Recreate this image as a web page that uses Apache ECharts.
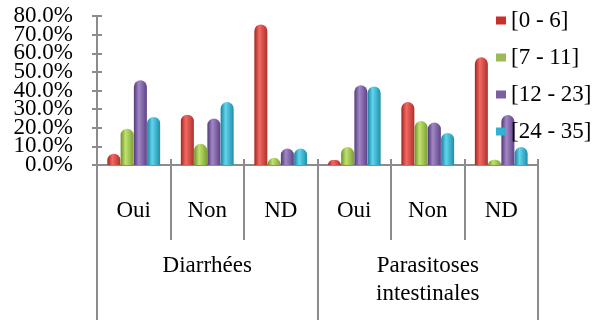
<!DOCTYPE html>
<html><head><meta charset="utf-8">
<script src="https://cdn.jsdelivr.net/npm/echarts@6/dist/echarts.min.js"></script>
<style>html,body{margin:0;padding:0;background:#fff}#c{width:607px;height:322px}</style>
</head><body><div id="c"></div>
<script>
const subCategories = ['Oui', 'Non', 'ND', 'Oui', 'Non', 'ND'];
const groupCategories = ['Diarrhées', 'Parasitoses\nintestinales'];
const seriesNames = ['[0 - 6]', '[7 - 11]', '[12 - 23]', '[24 - 35]'];
const s0_6 = [6.1, 27.0, 75.5, 2.7, 33.8, 57.8];
const s7_11 = [19.5, 11.4, 3.9, 9.6, 23.6, 2.8];
const s12_23 = [45.5, 24.9, 8.8, 42.8, 22.8, 26.8];
const s24_35 = [25.8, 33.8, 8.8, 42.2, 17.2, 9.6];
const yTicks = { min: 0, max: 80, interval: 10 };

const palette = [
  ['#a3231f', '#f26a62', '#b0302b'],
  ['#6e8f2a', '#bfe26e', '#7d9f35'],
  ['#51397a', '#a286c6', '#5c4386'],
  ['#17819c', '#62d4ee', '#1f8ea9']
];
const legendColors = ['#c9302c', '#9bbb59', '#7b5fa3', '#2fb2d4'];
function grad(c) {
  return new echarts.graphic.LinearGradient(0, 0, 1, 0, [
    { offset: 0, color: c[0] }, { offset: 0.38, color: c[1] }, { offset: 1, color: c[2] }
  ]);
}
const allData = [s0_6, s7_11, s12_23, s24_35];
const font = '"Liberation Serif", "Times New Roman", serif';
const axisColor = '#8c8c8c';
const fs = 23;
const gridRect = { left: 97, right: 69, top: 16, bottom: 157, containLabel: false };
const pct = v => v.toFixed(1) + '%';

const chart = echarts.init(document.getElementById('c'), null, { renderer: 'canvas' });
chart.setOption({
  animation: false,
  textStyle: { fontFamily: font },
  grid: [Object.assign({}, gridRect), Object.assign({}, gridRect)],
  legend: {
    orient: 'vertical', left: 491, top: 4,
    itemWidth: 10, itemHeight: 8, itemGap: 14,
    textStyle: { fontFamily: font, fontSize: fs, color: '#000' },
    data: seriesNames.map((n, i) => ({ name: n, icon: 'rect', itemStyle: { color: legendColors[i] } }))
  },
  xAxis: [
    {
      type: 'category', data: subCategories, position: 'bottom', gridIndex: 0,
      axisLine: { show: true, lineStyle: { color: axisColor, width: 2 } },
      axisTick: { show: true, interval: 0, length: 75, lineStyle: { color: axisColor, width: 2 } },
      axisLabel: { interval: 0, margin: 34, fontFamily: font, fontSize: fs, color: '#000' }
    },
    {
      type: 'category', data: groupCategories, position: 'bottom', gridIndex: 0,
      axisLine: { show: false },
      axisTick: { show: true, interval: 0, length: 155, lineStyle: { color: axisColor, width: 2 } },
      axisLabel: { interval: 0, margin: 87, lineHeight: 28, fontFamily: font, fontSize: fs, color: '#000' }
    },
    {
      type: 'category', data: subCategories, position: 'bottom', gridIndex: 1,
      axisLine: { show: false },
      axisTick: { show: true, inside: true, interval: 0, length: 6, lineStyle: { color: axisColor, width: 2 } },
      axisLabel: { show: false }
    }
  ],
  yAxis: [
    {
      type: 'value', min: yTicks.min, max: yTicks.max, interval: yTicks.interval, gridIndex: 0,
      axisLine: { show: true, lineStyle: { color: axisColor, width: 2 } },
      axisTick: { show: true, length: 5, lineStyle: { color: axisColor, width: 2 } },
      splitLine: { show: false },
      axisLabel: { margin: 24, fontFamily: font, fontSize: fs, color: '#000',
        formatter: v => (v % 20 === 0 ? pct(v) : '') }
    },
    {
      type: 'value', min: yTicks.min, max: yTicks.max, interval: yTicks.interval, position: 'left', gridIndex: 1,
      axisLine: { show: false },
      axisTick: { show: true, inside: true, length: 5, lineStyle: { color: axisColor, width: 2 } },
      splitLine: { show: false },
      axisLabel: { margin: 24, fontFamily: font, fontSize: fs, color: '#000',
        formatter: v => (v % 20 === 10 ? pct(v) : '') }
    }
  ],
  series: seriesNames.map((n, i) => ({
    name: n, type: 'bar', xAxisIndex: 0, yAxisIndex: 0,
    data: allData[i], barWidth: 13, barGap: '2%',
    itemStyle: { color: grad(palette[i]), borderRadius: [6.5, 6.5, 0, 0] }
  }))
});
</script></body></html>
